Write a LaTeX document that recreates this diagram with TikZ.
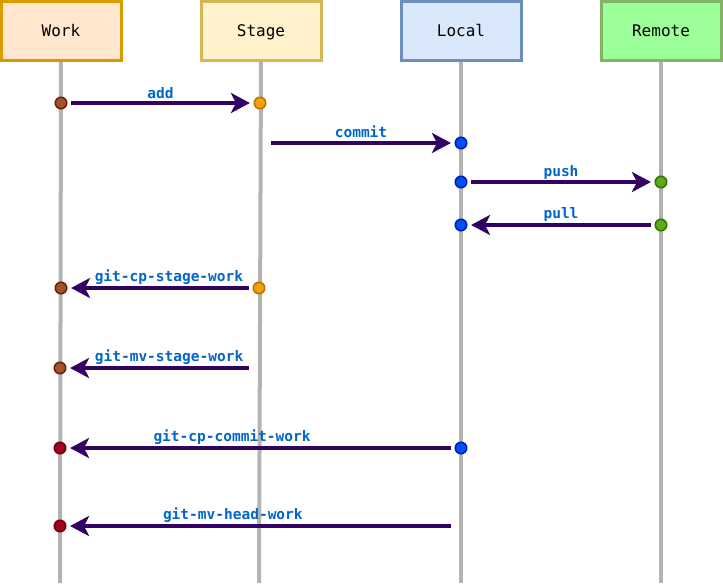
\documentclass[tikz,border=0pt]{standalone}
\usepackage{fontspec}
\setmonofont{DejaVu Sans Mono}
\usepackage{xcolor}
\usetikzlibrary{positioning,calc,arrows.meta}

\definecolor{workfill}{HTML}{FFE6CC}
\definecolor{workdraw}{HTML}{D79B00}
\definecolor{stagefill}{HTML}{FFF2CC}
\definecolor{stagedraw}{HTML}{D6B656}
\definecolor{localfill}{HTML}{DAE8FC}
\definecolor{localdraw}{HTML}{6C8EBF}
\definecolor{remotefill}{HTML}{9CFF99}
\definecolor{remotedraw}{HTML}{82B366}
\definecolor{lifegray}{HTML}{B3B3B3}
\definecolor{msgcolor}{HTML}{330066}
\definecolor{lblcolor}{HTML}{0066CC}

\begin{document}
\begin{tikzpicture}[x=1pt, y=-1pt,
    actor/.style={rectangle, draw, line width=3pt, minimum width=120pt, minimum height=59pt, inner sep=0pt,
        text height=13pt, text depth=1.6pt, font=\ttfamily\fontsize{16}{19}\selectfont},
    life/.style={draw=lifegray, line width=4pt},
    dot/.style={circle, draw, line width=1.5pt, minimum size=11.5pt, inner sep=0pt, outer sep=0pt},
    nodot/.style={circle, minimum size=11.5pt, inner sep=0pt, outer sep=0pt},
    workdot/.style={dot, fill={rgb,255:red,160;green,82;blue,45}, draw={rgb,255:red,109;green,31;blue,0}},
    stagedot/.style={dot, fill={rgb,255:red,240;green,163;blue,10}, draw={rgb,255:red,189;green,112;blue,0}},
    localdot/.style={dot, fill={rgb,255:red,0;green,80;blue,239}, draw={rgb,255:red,0;green,29;blue,188}},
    remotedot/.style={dot, fill={rgb,255:red,96;green,169;blue,23}, draw={rgb,255:red,45;green,118;blue,0}},
    headdot/.style={dot, fill={rgb,255:red,162;green,0;blue,37}, draw={rgb,255:red,111;green,0;blue,0}},
    msg/.style={-{Stealth[length=19pt, width=20pt, inset=5pt]}, line width=3.3pt, draw=msgcolor,
        shorten <=4.3pt, shorten >=4.3pt},
    lbl/.style={anchor=base, yshift=7pt, inner sep=0pt, text=lblcolor,
        font=\ttfamily\bfseries\fontsize{14.5}{17}\selectfont}]

    \useasboundingbox (0,0) rectangle (723,587);

    % lifelines
    \coordinate (workend) at (60,583);
    \coordinate (stageend) at (259,583);
    \coordinate (localend) at (461,583);
    \coordinate (remoteend) at (661,583);

    \node[actor, fill=workfill, draw=workdraw] (work) at (61,31) {Work};
    \node[actor, fill=stagefill, draw=stagedraw] (stage) at (261,31) {Stage};
    \node[actor, fill=localfill, draw=localdraw] (local) at (461,31) {Local};
    \node[actor, fill=remotefill, draw=remotedraw] (remote) at (661,31) {Remote};

    \draw[life] (work.south) -- (workend);
    \draw[life] (stage.south) -- (stageend);
    \draw[life] (local.south) -- (localend);
    \draw[life] (remote.south) -- (remoteend);

    % points on the lifelines
    \node[workdot] (w1) at (61,103) {};
    \node[stagedot] (s1) at (260,103) {};
    \node[nodot] (s2) at (261,143) {};
    \node[localdot] (l2) at (461,143) {};
    \node[localdot] (l3) at (461,182) {};
    \node[remotedot] (r3) at (661,182) {};
    \node[remotedot] (r4) at (661,225) {};
    \node[localdot] (l4) at (461,225) {};
    \node[stagedot] (s5) at (259,288) {};
    \node[workdot] (w5) at (61,288) {};
    \node[nodot] (s6) at (259,368) {};
    \node[workdot] (w6) at (60,368) {};
    \node[localdot] (l7) at (461,448) {};
    \node[headdot] (w7) at (60,448) {};
    \node[nodot] (l8) at (461,526) {};
    \node[headdot] (w8) at (60,526) {};

    % messages
    \draw[msg] (w1) -- node[lbl, yshift=-2pt] {add} (s1);
    \draw[msg] (s2) -- node[lbl, yshift=-1pt] {commit} (l2);
    \draw[msg] (l3) -- node[lbl, yshift=-1pt] {push} (r3);
    \draw[msg] (r4) -- node[lbl] {pull} (l4);
    \draw[msg] (s5) -- node[lbl, pos=0.452] {git-cp-stage-work} (w5);
    \draw[msg] (s6) -- node[lbl, pos=0.449] {git-mv-stage-work} (w6);
    \draw[msg] (l7) -- node[lbl, pos=0.573] {git-cp-commit-work} (w7);
    \draw[msg] (l8) -- node[lbl, pos=0.571] {git-mv-head-work} (w8);
\end{tikzpicture}
\end{document}
